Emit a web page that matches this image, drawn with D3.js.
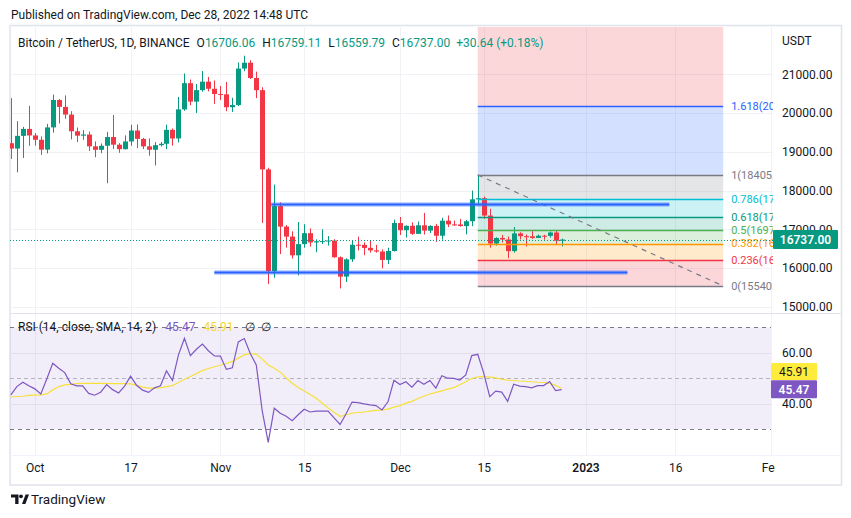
<!DOCTYPE html>
<html>
<head>
<meta charset="utf-8">
<script src="https://cdn.jsdelivr.net/npm/d3@7"></script>
<style>
  body { margin: 0; background: #fff; }
  svg { display: block; font-family: Roboto, "Noto Sans", sans-serif; }
</style>
</head>
<body>
<svg id="chart" width="851" height="518"></svg>
<script>
// ---- data (BTC/USDT daily, Binance) ----
const startDay = "2022-09-27";
const opens = [19222,19084,19412,19591,19423,19311,19057,19630,20337,20159,
  19961,19530,19417,19446,19141,19052,19157,19382,19185,19068,
  19268,19550,19334,19140,19054,19172,19208,19567,19345,20095,
  20771,20295,20591,20810,20627,20491,20483,20151,20207,21148,
  21299,20905,20591,18547,15923,17601,17071,16813,16330,16620,
  16901,16662,16693,16697,16712,16281,15781,16227,16603,16599,
  16522,16458,16428,16212,16442,17163,16977,17092,16885,17105,
  16967,17089,16836,17224,17128,17127,17085,17209,17775,17804,
  17356,16633,16777,16739,16439,16896,16824,16821,16779,16836,
  16832,16919,16706.06];
const highs = [20385,19790,19645,20185,19485,19395,19720,20475,20365,20456,
  20050,19627,19560,19522,19268,19215,19514,19951,19225,19424,
  19698,19706,19360,19346,19250,19256,19700,19602,20415,21020,
  20865,20750,21085,20932,20840,20700,20800,20394,21302,21480,
  21365,21069,20667,18590,18154,17695,17110,16950,17190,17134,
  17024,16742,17000,16828,16746,16302,16253,16706,16812,16666,
  16700,16600,16483,16526,17249,17320,17105,17180,17202,17424,
  17107,17142,17299,17360,17227,17270,17241,18000,18387,17846,
  17531,16796,16859,16815,17061,16925,16868,16955,16869,16860,
  16945,16972,16759.11];
const lows = [18816,18471,18843,19155,19160,18921,18960,19494,19730,19853,
  19320,19255,19310,19021,18860,18965,18190,19070,18975,19063,
  19156,19096,19072,18900,18650,19138,19070,19160,19242,20057,
  20200,20000,20552,20560,20237,20336,20048,20031,20180,21080,
  20880,20386,17166,15588,15754,16361,16528,16248,15815,16527,
  16556,16410,16623,16581,16267,15476,15642,16160,16459,16333,
  16400,16400,15995,16104,16428,16855,16787,16858,16878,16867,
  16907,16678,16733,17058,17092,17071,16873,17082,17660,17275,
  16527,16581,16663,16256,16399,16741,16559,16752,16774,16733,
  16791,16592,16559.79];
const closes = [19084,19412,19591,19423,19311,19057,19630,20337,20159,19961,
  19530,19417,19446,19141,19052,19157,19382,19185,19068,19268,
  19550,19334,19140,19054,19172,19208,19567,19345,20095,20771,
  20295,20591,20810,20627,20491,20483,20151,20207,21148,21299,
  20905,20591,18547,15923,17601,17071,16813,16330,16620,16901,
  16662,16693,16697,16712,16281,15781,16227,16603,16599,16522,
  16458,16428,16212,16442,17163,16977,17092,16885,17105,16967,
  17089,16836,17224,17128,17127,17085,17209,17775,17804,17356,
  16633,16777,16739,16439,16896,16824,16821,16779,16836,16832,
  16919,16706,16737.00];
const rsi = [43.4,46.7,48.4,47.0,45.8,43.8,49.7,55.9,53.9,52.2,
  47.8,47.0,47.0,44.0,43.3,44.5,47.5,45.5,44.2,46.9,
  50.8,47.2,45.3,44.4,46.2,47.0,52.9,49.1,59.2,65.7,
  58.9,61.4,63.4,60.8,58.8,58.7,53.5,54.1,64.3,65.6,
  59.7,55.2,37.0,24.7,38.2,36.2,35.0,33.3,35.6,37.8,
  36.7,37.0,37.0,37.0,34.4,31.8,36.0,40.6,40.4,39.9,
  39.5,39.2,37.5,40.7,49.2,47.5,48.6,46.5,49.1,47.6,
  49.1,46.1,51.0,50.0,49.9,49.3,51.3,58.9,59.4,52.0,
  42.7,44.9,44.5,40.9,47.6,46.9,46.7,46.2,47.1,47.1,
  48.7,45.1,45.47];
const rsiMa = [42.6,42.8,42.9,43.2,43.3,43.4,43.8,45.4,46.7,47.4,
  47.6,47.9,48.0,48.0,48.0,48.0,48.0,47.9,47.9,47.9,
  47.8,47.2,46.5,46.1,46.1,46.3,46.7,47.1,48.3,49.6,
  50.7,51.8,53.0,53.8,54.5,55.1,55.8,56.6,57.9,59.2,
  59.8,59.4,57.5,55.2,53.9,52.4,50.1,48.0,46.3,45.0,
  43.6,42.1,40.2,38.3,36.6,34.9,35.6,36.2,36.5,36.7,
  37.0,37.3,37.5,37.8,38.6,39.2,40.2,40.9,42.0,42.9,
  43.8,44.4,45.0,45.7,46.3,47.4,48.6,49.9,50.5,50.7,
  50.4,50.1,49.6,49.2,49.1,48.9,48.8,48.6,48.4,48.3,
  48.0,47.2,45.91];

const priceTicks = [15000, 16000, 17000, 18000, 19000, 20000, 21000];
const rsiTicks = [60, 40];
const dateTicks = ["2022-10-01","2022-10-17","2022-11-01","2022-11-15","2022-12-01","2022-12-15","2023-01-01","2023-01-16","2023-02-01"];
const dateLabels = ["Oct","17","Nov","15","Dec","15","2023","16","Feb"];

// fib retracement drawn from Dec 14 high
const fibFrom = ["2022-12-14", 18405.29];
const fibTo = ["2023-01-24", 15540.12];
const fibLevels = [0, 0.236, 0.382, 0.5, 0.618, 0.786, 1, 1.618, 2.618];
const fibColors = ["#787b86","#f23645","#ff9800","#4caf50","#089981","#00bcd4","#787b86","#2962ff","#f23645"];

// horizontal trend lines
const trendLines = [
  {from: "2022-11-09T12:00", to: "2023-01-15", price: 17644},
  {from: "2022-10-31", to: "2023-01-08", price: 15892}
];

const legendChange = "+30.64 (+0.18%)";

// ---- layout ----
const green = '#089981', red = '#f23645', ink = '#131722', grid = '#f0f2f5';
const pane = {l: 10, r: 773, top: 27, priceBot: 313, rsiTop: 314, rsiBot: 455, axisBot: 485};

const parse = d3.utcParse('%Y-%m-%d');
const parseT = s => s.length > 10 ? d3.utcParse('%Y-%m-%dT%H:%M')(s) : parse(s);
const first = parse(startDay);
const days = d3.utcDay.range(first, d3.utcDay.offset(first, closes.length));
const candles = days.map((d, i) => ({date: d, o: opens[i], h: highs[i], l: lows[i], c: closes[i]}));

const x = d3.scaleUtc().domain([parse('2022-10-01'), parse('2023-01-01')]).range([34.8, 585.5]);
const y = d3.scaleLinear().domain([15000, 21000]).range([306.9, 74.3]);
const yR = d3.scaleLinear().domain([30, 70]).range([429, 327.4]);

const svg = d3.select('#chart');
const defs = svg.append('defs');
defs.append('clipPath').attr('id', 'clipPrice').append('rect')
  .attr('x', pane.l).attr('y', pane.top).attr('width', pane.r - pane.l).attr('height', pane.priceBot - pane.top);
defs.append('clipPath').attr('id', 'clipRsi').append('rect')
  .attr('x', pane.l).attr('y', pane.rsiTop).attr('width', pane.r - pane.l).attr('height', pane.rsiBot - pane.rsiTop);
// local coords of the time axis group
defs.append('clipPath').attr('id', 'clipAxis').append('rect')
  .attr('x', pane.l).attr('y', 0).attr('width', pane.r - pane.l + 2).attr('height', 30);

// header
svg.append('text').attr('x', 11).attr('y', 19).attr('font-size', 12).attr('fill', ink)
  .text('Published on TradingView.com, Dec 28, 2022 14:48 UTC');

// frame
svg.append('rect').attr('x', 10).attr('y', 25.5).attr('width', 831.5).attr('height', pane.axisBot - 25.5)
  .attr('fill', 'none').attr('stroke', '#e0e3eb').attr('stroke-width', 1.5);

// grid
const tickDates = dateTicks.map(parse);
const gGrid = svg.append('g');
gGrid.selectAll('.vg').data(tickDates.filter(d => x(d) < pane.r)).enter().append('line')
  .attr('x1', d => Math.round(x(d)) + 0.5).attr('x2', d => Math.round(x(d)) + 0.5)
  .attr('y1', pane.top).attr('y2', pane.rsiBot).attr('stroke', grid);
gGrid.selectAll('.hg').data(priceTicks).enter().append('line')
  .attr('x1', pane.l).attr('x2', pane.r)
  .attr('y1', d => Math.round(y(d)) + 0.5).attr('y2', d => Math.round(y(d)) + 0.5)
  .attr('stroke', grid);

// pane separators
svg.append('line').attr('x1', pane.l).attr('x2', 841).attr('y1', pane.priceBot + 0.5).attr('y2', pane.priceBot + 0.5).attr('stroke', '#e0e3eb');
svg.append('line').attr('x1', pane.l).attr('x2', 841).attr('y1', pane.rsiBot + 0.5).attr('y2', pane.rsiBot + 0.5).attr('stroke', '#f0f3fa');

// ---- price pane ----
const gPrice = svg.append('g').attr('clip-path', 'url(#clipPrice)');

// fib fills
const fx0 = x(parse(fibFrom[0])), fx1 = x(parse(fibTo[0]));
const fibPrice = lv => fibTo[1] + lv * (fibFrom[1] - fibTo[1]);
const bands = fibLevels.slice(1).map((lv, i) => ({lo: fibLevels[i], hi: lv, color: fibColors[i + 1]}));
gPrice.selectAll('.fibband').data(bands).enter().append('rect')
  .attr('x', fx0).attr('width', fx1 - fx0)
  .attr('y', d => y(fibPrice(d.hi))).attr('height', d => y(fibPrice(d.lo)) - y(fibPrice(d.hi)))
  .attr('fill', d => d.color).attr('fill-opacity', 0.2);

// candles
const cg = gPrice.selectAll('.candle').data(candles).enter().append('g');
cg.append('line')
  .attr('x1', d => Math.round(x(d.date)) + 0.5).attr('x2', d => Math.round(x(d.date)) + 0.5)
  .attr('y1', d => y(d.h)).attr('y2', d => y(d.l))
  .attr('stroke', d => d.c >= d.o ? green : red);
cg.append('rect')
  .attr('x', d => Math.round(x(d.date)) - 2).attr('width', 5)
  .attr('y', d => y(Math.max(d.o, d.c)))
  .attr('height', d => Math.max(1, y(Math.min(d.o, d.c)) - y(Math.max(d.o, d.c))))
  .attr('fill', d => d.c >= d.o ? green : red);

// fib lines + labels (labels cut at the pane edge like the original)
gPrice.selectAll('.fibline').data(fibLevels).enter().append('line')
  .attr('x1', fx0).attr('x2', fx1)
  .attr('y1', d => Math.round(y(fibPrice(d))) + 0.5).attr('y2', d => Math.round(y(fibPrice(d))) + 0.5)
  .attr('stroke', (d, i) => fibColors[i]).attr('stroke-width', 1.3);
gPrice.selectAll('.fiblabel').data(fibLevels.slice(0, 8)).enter().append('text')
  .attr('x', fx1 + 8).attr('y', d => y(fibPrice(d))).attr('dy', '0.35em')
  .attr('font-size', 11).attr('fill', (d, i) => fibColors[i])
  .text(d => `${d}(${fibPrice(d).toFixed(2)})`)
  .each(function () {
    const t = d3.select(this);
    let s = t.text();
    while (s.length > 1 && fx1 + 8 + this.getComputedTextLength() > pane.r + 4) {
      s = s.slice(0, -1);
      t.text(s);
    }
  });
gPrice.append('line')
  .attr('x1', fx0).attr('y1', y(fibFrom[1])).attr('x2', fx1).attr('y2', y(fibTo[1]))
  .attr('stroke', '#787b86').attr('stroke-width', 1.2).attr('stroke-dasharray', '5,5');

// trend lines
trendLines.forEach(t => {
  const yy = Math.round(y(t.price)) + 0.5;
  gPrice.append('line').attr('x1', x(parseT(t.from))).attr('x2', x(parseT(t.to)))
    .attr('y1', yy).attr('y2', yy).attr('stroke', '#2962ff').attr('stroke-opacity', 0.35).attr('stroke-width', 4.5);
  gPrice.append('line').attr('x1', x(parseT(t.from))).attr('x2', x(parseT(t.to)))
    .attr('y1', yy).attr('y2', yy).attr('stroke', '#2962ff').attr('stroke-width', 2);
});

// last price line
const last = candles[candles.length - 1];
gPrice.append('line').attr('x1', pane.l).attr('x2', pane.r)
  .attr('y1', Math.round(y(last.c)) + 0.5).attr('y2', Math.round(y(last.c)) + 0.5)
  .attr('stroke', green).attr('stroke-dasharray', '1,2');

// price axis
const axP = svg.append('g').attr('transform', 'translate(773,0)')
  .call(d3.axisRight(y).tickValues(priceTicks).tickFormat(d3.format('.2f')).tickSize(0).tickPadding(9));
axP.select('.domain').remove();
axP.selectAll('text').attr('font-size', 12).attr('fill', ink).attr('font-family', 'Roboto, sans-serif');
svg.append('text').attr('x', 782).attr('y', 45).attr('font-size', 12).attr('fill', ink).text('USDT');

svg.append('rect').attr('x', 773).attr('y', y(last.c) - 9.5).attr('width', 65).attr('height', 19).attr('rx', 1).attr('fill', green);
svg.append('text').attr('x', 805.5).attr('y', y(last.c)).attr('dy', '0.36em').attr('text-anchor', 'middle')
  .attr('font-size', 12).attr('font-weight', 600).attr('fill', '#fff').text(d3.format('.2f')(last.c));

// legend
const fmt = d3.format('.2f');
const leg = svg.append('text').attr('x', 18).attr('y', 47).attr('font-size', 12).attr('fill', ink);
leg.append('tspan').text('Bitcoin / TetherUS, 1D, BINANCE');
[['O', last.o], ['H', last.h], ['L', last.l], ['C', last.c]].forEach(([k, v]) => {
  leg.append('tspan').attr('dx', 7).text(k);
  leg.append('tspan').attr('fill', green).text(fmt(v));
});
leg.append('tspan').attr('dx', 6).attr('fill', green).text(legendChange);

// ---- RSI pane ----
const gR = svg.append('g').attr('clip-path', 'url(#clipRsi)');
gR.append('rect').attr('x', pane.l).attr('width', 771 - pane.l)
  .attr('y', yR(70)).attr('height', yR(30) - yR(70)).attr('fill', '#7e57c2').attr('fill-opacity', 0.1);
gR.selectAll('.rg').data(rsiTicks).enter().append('line')
  .attr('x1', pane.l).attr('x2', 771)
  .attr('y1', d => Math.round(yR(d)) + 0.5).attr('y2', d => Math.round(yR(d)) + 0.5)
  .attr('stroke', '#e2dfea');
gR.selectAll('.band').data([70, 30]).enter().append('line')
  .attr('x1', pane.l).attr('x2', 771)
  .attr('y1', d => Math.round(yR(d)) + 0.5).attr('y2', d => Math.round(yR(d)) + 0.5)
  .attr('stroke', '#787b86').attr('stroke-dasharray', '4,4');
gR.append('line').attr('x1', pane.l).attr('x2', 771)
  .attr('y1', Math.round(yR(50)) + 0.5).attr('y2', Math.round(yR(50)) + 0.5)
  .attr('stroke', '#b2b5be').attr('stroke-dasharray', '4,3');

const rsiLine = d3.line().x((d, i) => x(days[i])).y(d => yR(d));
gR.append('path').datum(rsiMa).attr('d', rsiLine).attr('fill', 'none').attr('stroke', '#f7e03a').attr('stroke-width', 1.2);
gR.append('path').datum(rsi).attr('d', rsiLine).attr('fill', 'none').attr('stroke', '#7e57c2').attr('stroke-width', 1.2);

const axR = svg.append('g').attr('transform', 'translate(773,0)')
  .call(d3.axisRight(yR).tickValues(rsiTicks).tickFormat(d3.format('.2f')).tickSize(0).tickPadding(9));
axR.select('.domain').remove();
axR.selectAll('text').attr('font-size', 12).attr('fill', ink).attr('font-family', 'Roboto, sans-serif');

const lastMa = rsiMa[rsiMa.length - 1], lastRsi = rsi[rsi.length - 1];
svg.append('rect').attr('x', 771).attr('y', yR(lastMa) - 25.5).attr('width', 46).attr('height', 17).attr('rx', 1).attr('fill', '#ffeb3b');
svg.append('text').attr('x', 794).attr('y', yR(lastMa) - 17).attr('dy', '0.36em').attr('text-anchor', 'middle')
  .attr('font-size', 12).attr('fill', ink).text(fmt(lastMa));
svg.append('rect').attr('x', 771).attr('y', yR(lastRsi) - 9.5).attr('width', 46).attr('height', 18).attr('rx', 1).attr('fill', '#7e57c2');
svg.append('text').attr('x', 794).attr('y', yR(lastRsi) - 0.5).attr('dy', '0.36em').attr('text-anchor', 'middle')
  .attr('font-size', 12).attr('font-weight', 600).attr('fill', '#fff').text(fmt(lastRsi));

const rl = svg.append('text').attr('x', 18).attr('y', 331).attr('font-size', 12).attr('fill', ink);
rl.append('tspan').text('RSI (14, close, SMA, 14, 2)');
rl.append('tspan').attr('dx', 9).attr('fill', '#7e57c2').text(fmt(lastRsi));
rl.append('tspan').attr('dx', 8).attr('fill', '#f5d82a').text(fmt(lastMa));
rl.append('tspan').attr('dx', 11).text('\u2205');
rl.append('tspan').attr('dx', 6).text('\u2205');

// ---- time axis ----
const axX = svg.append('g').attr('transform', `translate(0,${pane.rsiBot})`).attr('clip-path', 'url(#clipAxis)')
  .call(d3.axisBottom(x).tickValues(tickDates).tickFormat((d, i) => dateLabels[i]).tickSize(0).tickPadding(8));
axX.select('.domain').remove();
axX.selectAll('text').attr('font-size', 12).attr('fill', ink).attr('font-family', 'Roboto, sans-serif')
  .attr('font-weight', (d, i) => dateLabels[i] === '2023' ? 600 : 400);

// ---- footer logo ----
const logo = svg.append('g').attr('fill', ink);
logo.append('path').attr('d', 'M11,494.5H18.5V504H15.2V497.6H11Z');
logo.append('circle').attr('cx', 21).attr('cy', 496.3).attr('r', 1.9);
logo.append('path').attr('d', 'M22,504L25.6,494.5H29L25.4,504Z');
svg.append('text').attr('x', 31).attr('y', 504).attr('font-size', 13.5).attr('fill', ink).text('TradingView');
</script>
</body>
</html>
